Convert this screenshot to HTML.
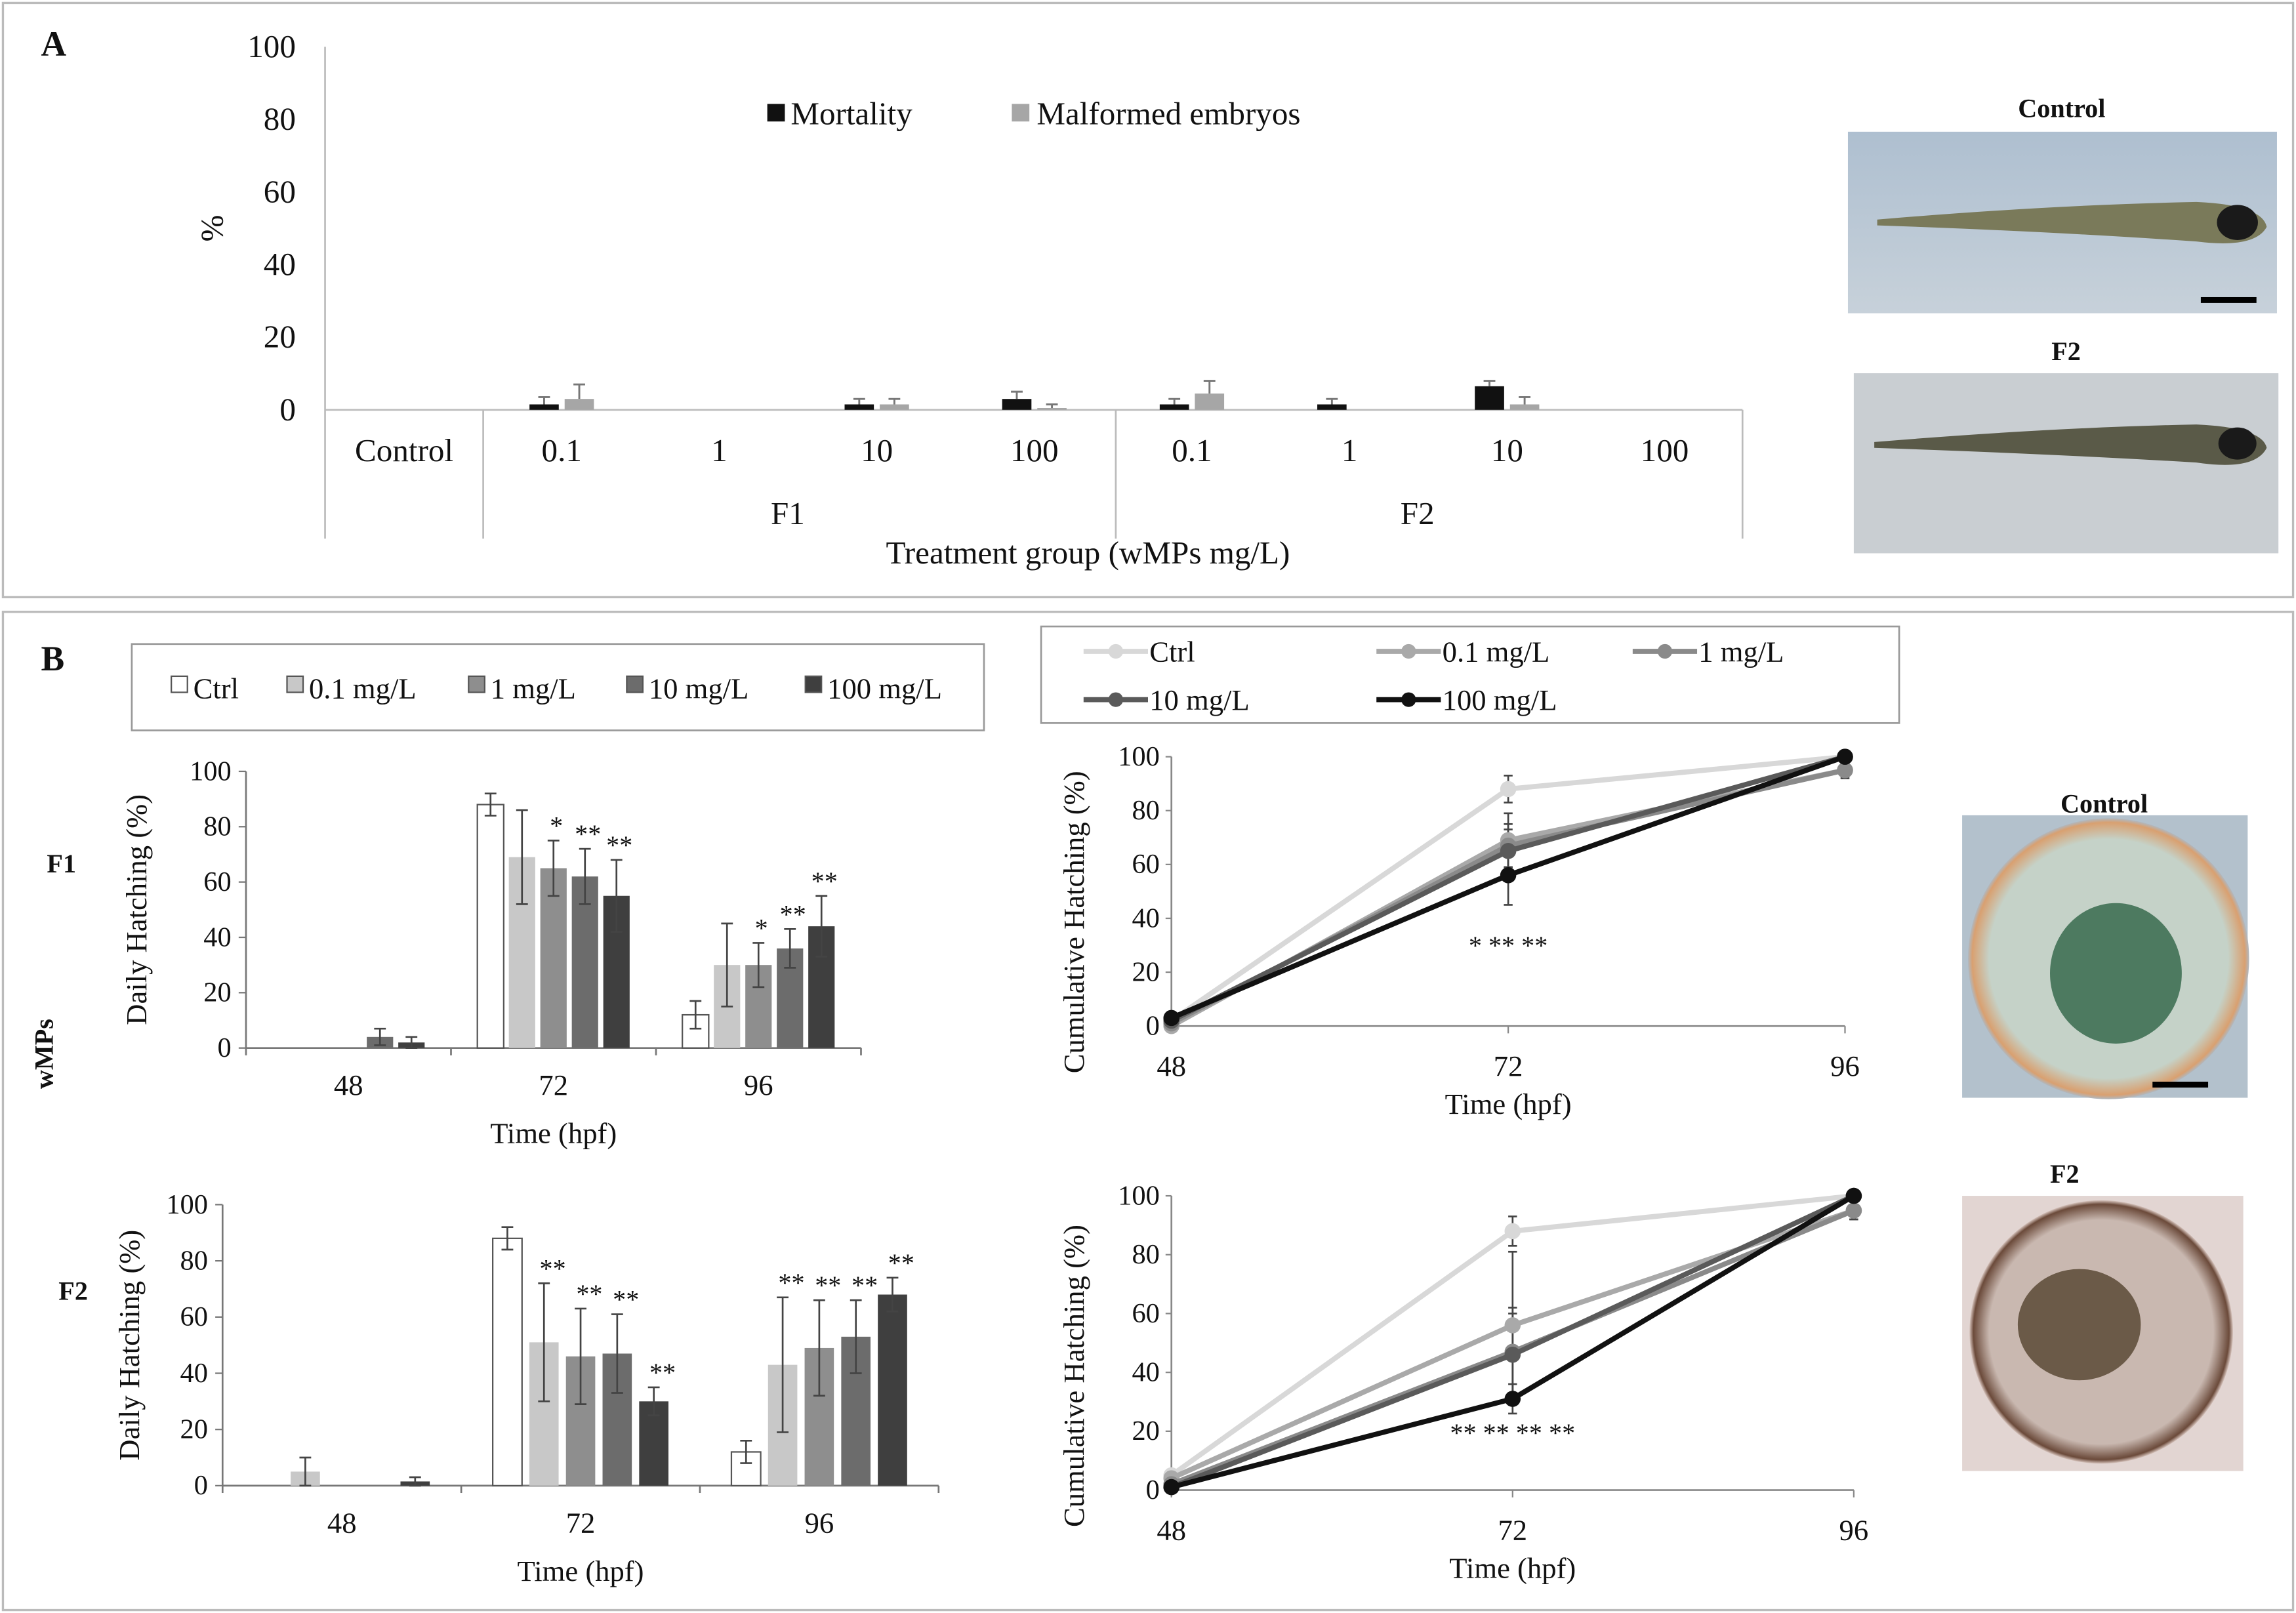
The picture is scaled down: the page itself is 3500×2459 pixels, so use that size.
<!DOCTYPE html>
<html><head><meta charset="utf-8"><style>
html,body{margin:0;padding:0;background:#fff}
svg{display:block}
svg text{font-family:"Liberation Serif","DejaVu Serif","Noto Serif CJK SC",serif !important;fill:#111}
</style></head><body>
<svg id="fig" font-family="Liberation Serif, DejaVu Serif, serif" width="3500" height="2459" viewBox="0 0 1568 1102" preserveAspectRatio="none" xmlns="http://www.w3.org/2000/svg">
<defs>
<linearGradient id="fishbg" x1="0" y1="0" x2="0" y2="1"><stop offset="0" stop-color="#aebfd0"/><stop offset="1" stop-color="#c7d1da"/></linearGradient>
<radialGradient id="egg1" cx="0.5" cy="0.5" r="0.5"><stop offset="0.85" stop-color="#c5d2c8"/><stop offset="0.97" stop-color="#d9a070"/><stop offset="1" stop-color="#b0b8c0"/></radialGradient>
<radialGradient id="egg2" cx="0.5" cy="0.5" r="0.5"><stop offset="0.85" stop-color="#c9b8b0"/><stop offset="0.97" stop-color="#6b4a3a"/><stop offset="1" stop-color="#d7c4bd"/></radialGradient>
</defs>
<g id="panelA">
<rect x="2" y="2" width="1564" height="406" fill="none" stroke="#bbb" stroke-width="1.5"/>
<text x="28" y="38" font-size="24" font-weight="bold">A</text>
</g>
<g id="panelB">
<rect x="2" y="418" width="1564" height="682" fill="none" stroke="#bbb" stroke-width="1.5"/>
<text x="28" y="458" font-size="24" font-weight="bold">B</text>
<text x="32" y="596" font-size="18" font-weight="bold">F1</text>
<text x="40" y="888" font-size="18" font-weight="bold">F2</text>
<text transform="translate(36,720) rotate(-90)" text-anchor="middle" font-size="18" font-weight="bold">wMPs</text>
</g>
<g>
<text x="1408" y="80" text-anchor="middle" font-size="18" font-weight="bold">Control</text>
<rect x="1262" y="90" width="293" height="124" fill="url(#fishbg)"/>
<path d="M1282,150 Q1400,140 1500,138 Q1545,140 1548,155 Q1540,170 1500,165 Q1400,158 1282,154Z" fill="#7a7a5a"/>
<ellipse cx="1528" cy="152" rx="14" ry="12" fill="#1a1a1a"/>
<rect x="1503" y="203" width="38" height="4" fill="#000"/>
</g>
<g>
<text x="1411" y="246" text-anchor="middle" font-size="18" font-weight="bold">F2</text>
<rect x="1266" y="255" width="290" height="123" fill="#c9ced2"/>
<path d="M1280,302 Q1400,292 1500,290 Q1545,292 1548,306 Q1540,322 1500,316 Q1400,310 1280,306Z" fill="#5a5a48"/>
<ellipse cx="1528" cy="303" rx="13" ry="11" fill="#1a1a1a"/>
</g>
<g>
<text x="1437" y="555" text-anchor="middle" font-size="18" font-weight="bold">Control</text>
<rect x="1340" y="557" width="195" height="193" fill="#b3c1cc"/>
<circle cx="1440" cy="655" r="96" fill="url(#egg1)"/>
<ellipse cx="1445" cy="665" rx="45" ry="48" fill="#4d7a60"/>
<rect x="1470" y="739" width="38" height="4" fill="#000"/>
</g>
<g>
<text x="1410" y="808" text-anchor="middle" font-size="18" font-weight="bold">F2</text>
<rect x="1340" y="817" width="192" height="188" fill="#e2d5d2"/>
<circle cx="1435" cy="910" r="90" fill="url(#egg2)"/>
<ellipse cx="1420" cy="905" rx="42" ry="38" fill="#6b5a48"/>
</g>
<script>
const NS='http://www.w3.org/2000/svg';
const fig=document.getElementById('fig');
function el(tag,attrs,parent,txt){const e=document.createElementNS(NS,tag);for(const k in attrs)e.setAttribute(k,attrs[k]);if(txt!==undefined)e.textContent=txt;(parent||fig).appendChild(e);return e;}

// ---------- Panel A data ----------
const aCategories=['Control','0.1','1','10','100','0.1','1','10','100'];
const aMortality=[0,1.5,0,1.5,3,1.5,1.5,6.5,0];
const aMortErr=[0,2,0,1.5,2,1.5,1.5,1.5,0];
const aMalformed=[0,3,0,1.5,0.5,4.5,0,1.5,0];
const aMalfErr=[0,4,0,1.5,1,3.5,0,2,0];
const aTicks=[0,20,40,60,80,100];

// ---------- Panel B data ----------
const groups=['Ctrl','0.1 mg/L','1 mg/L','10 mg/L','100 mg/L'];
const hpf=['48','72','96'];
const f1Daily=[[0,88,12],[0,69,30],[0,65,30],[4,62,36],[2,55,44]];
const f1DailyErr=[[0,4,5],[0,17,15],[0,10,8],[3,10,7],[2,13,11]];
const f1Stars=[['','',''],['','',''],['','*','*'],['','**','**'],['','**','**']];
const f2Daily=[[0,88,12],[5,51,43],[0,46,49],[0,47,53],[1.5,30,68]];
const f2DailyErr=[[0,4,4],[5,21,24],[0,17,17],[0,14,13],[1.5,5,6]];
const f2Stars=[['','',''],['','**','**'],['','**','**'],['','**','**'],['','**','**']];
const f1Cum=[[2,88,100],[0,69,95],[1,67,95],[2,65,100],[3,56,100]];
const f1CumErr=[[0,5,0],[0,10,3],[0,8,3],[0,8,0],[0,11,0]];
const f2Cum=[[5,88,100],[4,56,95],[2,47,95],[1,46,100],[1,31,100]];
const f2CumErr=[[0,5,0],[0,25,3],[0,15,3],[0,14,0],[0,5,0]];
const f1CumStars=['*','**','**'];
const f2CumStars=['**','**','**','**'];
const yTicks=[0,20,40,60,80,100];

const barFill=['#ffffff','#c8c8c8','#8e8e8e','#6c6c6c','#3f3f3f'];
const lineCol=['#d8d8d8','#a9a9a9','#8a8a8a','#5a5a5a','#111111'];

// ===== Panel A chart =====
(function(){
 const g=el('g',{});  
 const x0=222,y0=280,yTop=32,xEnd=1190;
 const yS=v=>y0-(v/100)*(y0-yTop);
 const cx=i=>276+i*107.6;
 el('line',{x1:x0,y1:yTop,x2:x0,y2:368,stroke:'#bbb','stroke-width':1.2},g);
 el('line',{x1:x0,y1:y0,x2:xEnd,y2:y0,stroke:'#bbb','stroke-width':1.2},g);
 [330,762,1190].forEach(x=>el('line',{x1:x,y1:y0,x2:x,y2:368,stroke:'#bbb','stroke-width':1.2},g));
 aTicks.forEach(t=>{const tx=el('text',{x:202,y:yS(t)+7,'text-anchor':'end','font-size':22},g,String(t));
  });
 const yt=el('text',{transform:'translate(152,156) rotate(-90)','text-anchor':'middle','font-size':22},g,'%');
 
 aCategories.forEach((c,i)=>{
  const t=el('text',{x:cx(i),y:315,'text-anchor':'middle','font-size':22},g,c);
  
  [[aMortality,aMortErr,'#111',-12],[aMalformed,aMalfErr,'#a6a6a6',12]].forEach(([v,e,col,off])=>{
   const x=cx(i)+off;
   if(v[i]>0){const r=el('rect',{x:x-10,y:yS(v[i]),width:20,height:y0-yS(v[i]),fill:col},g);
    }
   if(e[i]>0){el('line',{x1:x,y1:yS(v[i]),x2:x,y2:yS(v[i]+e[i]),stroke:'#777','stroke-width':1.3},g);
    el('line',{x1:x-4,y1:yS(v[i]+e[i]),x2:x+4,y2:yS(v[i]+e[i]),stroke:'#777','stroke-width':1.3},g);}
  });
 });
 let t=el('text',{x:538,y:358,'text-anchor':'middle','font-size':22},g,'F1');
 t=el('text',{x:968,y:358,'text-anchor':'middle','font-size':22},g,'F2');
 t=el('text',{x:743,y:385,'text-anchor':'middle','font-size':22},g,'Treatment  group (wMPs mg/L)');
 const l1=el('g',{},g);
 el('rect',{x:524,y:71,width:12,height:12,fill:'#111'},l1);el('text',{x:540,y:85,'font-size':22},l1,'Mortality');
 const l2=el('g',{},g);
 el('rect',{x:691,y:71,width:12,height:12,fill:'#a6a6a6'},l2);el('text',{x:708,y:85,'font-size':22},l2,'Malformed embryos');
})();

// ===== Daily bar charts =====
function barChart(name,data,err,stars,ax){
 const g=el('g',{});
 const yS=v=>ax.y0-(v/100)*(ax.y0-ax.yTop);
 el('line',{x1:ax.x0,y1:ax.yTop,x2:ax.x0,y2:ax.y0,stroke:'#777','stroke-width':1.2},g);
 el('line',{x1:ax.x0,y1:ax.y0,x2:ax.x0+3*ax.gw,y2:ax.y0,stroke:'#777','stroke-width':1.2},g);
 for(let k=0;k<=3;k++)el('line',{x1:ax.x0+k*ax.gw,y1:ax.y0,x2:ax.x0+k*ax.gw,y2:ax.y0+5,stroke:'#777','stroke-width':1.2},g);
 yTicks.forEach(t=>{el('line',{x1:ax.x0-5,y1:yS(t),x2:ax.x0,y2:yS(t),stroke:'#777'},g);
  const tx=el('text',{x:ax.x0-10,y:yS(t)+6,'text-anchor':'end','font-size':19},g,String(t));
  });
 hpf.forEach((h,j)=>{const c=ax.x0+(j+0.5)*ax.gw;
  const tx=el('text',{x:c,y:ax.y0+32,'text-anchor':'middle','font-size':20},g,h);
  
  data.forEach((s,i)=>{const x=c+(i-2)*ax.bs;const v=s[j];
   if(v>0){const r=el('rect',{x:x-ax.bw/2,y:yS(v),width:ax.bw,height:ax.y0-yS(v),fill:barFill[i],stroke:i==0?'#555':'none','stroke-width':1},g);
    }
   const e=err[i][j];
   if(e>0){const y1=yS(v+e),y2=yS(Math.max(0,v-e));
    el('line',{x1:x,y1:y1,x2:x,y2:y2,stroke:'#444','stroke-width':1.2},g);
    el('line',{x1:x-4,y1:y1,x2:x+4,y2:y1,stroke:'#444','stroke-width':1.2},g);
    el('line',{x1:x-4,y1:y2,x2:x+4,y2:y2,stroke:'#444','stroke-width':1.2},g);}
   if(stars[i][j]){const st=el('text',{x:x+ax.starOff,y:yS(v+e)-4,'text-anchor':'middle','font-size':18},g,stars[i][j]);
    }
  });});
 let t=el('text',{transform:`translate(${ax.ytx},${(ax.y0+ax.yTop)/2}) rotate(-90)`,'text-anchor':'middle','font-size':20},g,'Daily  Hatching (%)');
 
 t=el('text',{x:ax.x0+1.5*ax.gw,y:ax.y0+65,'text-anchor':'middle','font-size':20},g,'Time (hpf)');
 
}
barChart('daily-hatching-f1',f1Daily,f1DailyErr,f1Stars,{x0:168,y0:716,yTop:527,gw:140,bs:21.5,bw:18,starOff:2,ytx:100});
barChart('daily-hatching-f2',f2Daily,f2DailyErr,f2Stars,{x0:152,y0:1015,yTop:823,gw:163,bs:25,bw:20,starOff:6,ytx:95});

(function(){
 const g=el('g',{});
 el('rect',{x:90,y:440,width:582,height:59,fill:'none',stroke:'#999','stroke-width':1.2},g);
 const xs=[117,196,320,428,550];
 groups.forEach((n,i)=>{const e=el('g',{},g);
  el('rect',{x:xs[i],y:462,width:11,height:11,fill:barFill[i],stroke:'#555','stroke-width':1},e);
  el('text',{x:xs[i]+15,y:477,'font-size':20},e,n);});
})();

function lineChart(name,data,err,stars,ax){
 const g=el('g',{});
 const yS=v=>ax.y0-(v/100)*(ax.y0-ax.yTop);
 const xS=j=>ax.xs+j*(ax.xe-ax.xs)/2;
 el('line',{x1:ax.xs,y1:ax.yTop,x2:ax.xs,y2:ax.y0,stroke:'#888','stroke-width':1.2},g);
 el('line',{x1:ax.xs,y1:ax.y0,x2:ax.xe,y2:ax.y0,stroke:'#888','stroke-width':1.2},g);
 hpf.forEach((h,j)=>{el('line',{x1:xS(j),y1:ax.y0,x2:xS(j),y2:ax.y0+5,stroke:'#888'},g);
  const t=el('text',{x:xS(j),y:ax.y0+34,'text-anchor':'middle','font-size':20},g,h);
  });
 yTicks.forEach(t=>{el('line',{x1:ax.xs-4,y1:yS(t),x2:ax.xs,y2:yS(t),stroke:'#888'},g);
  const tx=el('text',{x:ax.xs-8,y:yS(t)+6,'text-anchor':'end','font-size':19},g,String(t));
  });
 data.forEach((s,i)=>{
  s.forEach((v,j)=>{const e=err[i][j];if(e>0){const x=xS(j);
   el('line',{x1:x,y1:yS(v+e),x2:x,y2:yS(v-e),stroke:'#444','stroke-width':1.2},g);
   el('line',{x1:x-3,y1:yS(v+e),x2:x+3,y2:yS(v+e),stroke:'#444','stroke-width':1.2},g);
   el('line',{x1:x-3,y1:yS(v-e),x2:x+3,y2:yS(v-e),stroke:'#444','stroke-width':1.2},g);}});
 });
 data.forEach((s,i)=>{
  const p=el('polyline',{points:s.map((v,j)=>xS(j)+','+yS(v)).join(' '),fill:'none',stroke:lineCol[i],'stroke-width':3.5},g);
  
  s.forEach((v,j)=>{const c=el('circle',{cx:xS(j),cy:yS(v),r:5.5,fill:lineCol[i]},g);
   });
 });
 const st=el('text',{x:xS(1),y:ax.starY,'text-anchor':'middle','font-size':18,fill:'#555'},g,stars.join(' '));
 
 let t=el('text',{transform:`translate(${ax.xs-60},${ax.ytc}) rotate(-90)`,'text-anchor':'middle','font-size':20},g,'Cumulative Hatching (%)');
 
 t=el('text',{x:xS(1),y:ax.y0+60,'text-anchor':'middle','font-size':20},g,'Time (hpf)');
 
}
lineChart('cumulative-hatching-f1',f1Cum,f1CumErr,f1CumStars,{xs:800,xe:1260,y0:701,yTop:517,starY:652,ytc:630});
lineChart('cumulative-hatching-f2',f2Cum,f2CumErr,f2CumStars,{xs:800,xe:1266,y0:1018,yTop:817,starY:985,ytc:940});

(function(){
 const g=el('g',{});
 el('rect',{x:711,y:428,width:586,height:66,fill:'none',stroke:'#999','stroke-width':1.2},g);
 const pos=[[740,445],[940,445],[1115,445],[740,478],[940,478]];
 groups.forEach((n,i)=>{const e=el('g',{},g);
  const [x,y]=pos[i];
  el('line',{x1:x,y1:y,x2:x+44,y2:y,stroke:lineCol[i],'stroke-width':3.5},e);
  el('circle',{cx:x+22,cy:y,r:5,fill:lineCol[i]},e);
  el('text',{x:x+45,y:y+7,'font-size':20},e,n);});
})();
</script>
</svg>
</body></html>
